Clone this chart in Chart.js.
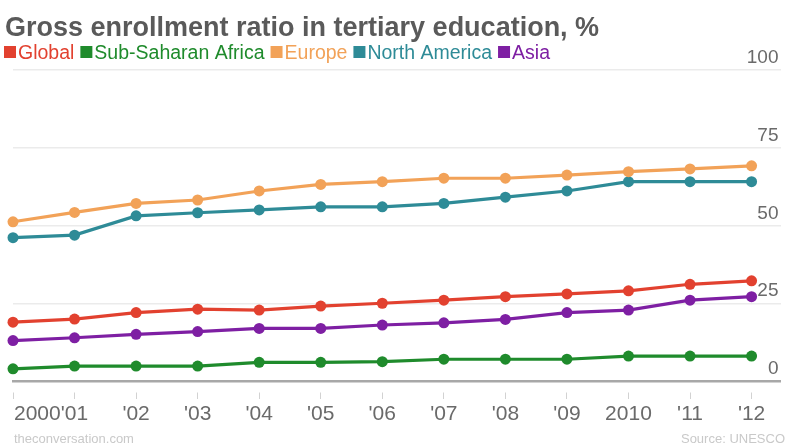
<!DOCTYPE html>
<html><head><meta charset="utf-8">
<script src="https://cdn.jsdelivr.net/npm/chart.js@4"></script>
<style>html,body{margin:0;padding:0;background:#fff}#wrap{width:786px;height:445px;position:relative}</style>
</head><body><div id="wrap"><canvas id="c"></canvas></div>
<script>
const chartTitle = "Gross enrollment ratio in tertiary education, %";
const years = ["2000","'01","'02","'03","'04","'05","'06","'07","'08","'09","2010","'11","'12"];
const seriesNames = ["Global","Sub-Saharan Africa","Europe","North America","Asia"];
const seriesColors = ["#e2412f","#1f8b2c","#f2a258","#2e8b97","#7e1fa3"];
const globalVals = [18.9,19.9,22.0,23.1,22.8,24.1,25.0,26.0,27.1,28.0,29.0,31.1,32.2];
const subSaharanAfrica = [3.9,4.8,4.8,4.8,6.0,6.0,6.2,7.0,7.0,7.0,8.0,8.0,8.0];
const europe = [51.2,54.2,57.1,58.2,61.1,63.2,64.1,65.2,65.2,66.2,67.3,68.2,69.2];
const northAmerica = [46.1,46.9,53.1,54.1,55.0,56.0,56.0,57.1,59.1,61.1,64.1,64.1,64.1];
const asia = [13.0,13.9,15.0,15.9,16.9,16.9,18.0,18.7,19.8,22.0,22.8,26.0,27.1];
const yTicks = [0,25,50,75,100];
const footerLeft = "theconversation.com";
const footerRight = "Source: UNESCO";

const seriesValues = [globalVals, subSaharanAfrica, europe, northAmerica, asia];
const FONT = '"Liberation Sans", Arial, Helvetica, sans-serif';

const datasets = seriesNames.map((name, s) => ({
  label: name,
  data: seriesValues[s].map((v, i) => ({x: i, y: v})),
  borderColor: seriesColors[s],
  backgroundColor: seriesColors[s],
  pointBackgroundColor: seriesColors[s],
  pointBorderWidth: 0,
  pointRadius: 5.5,
  borderWidth: 3.2,
  tension: 0,
  clip: false
}));

const deco = {
  id: 'deco',
  afterDraw(chart) {
    const ctx = chart.ctx;
    const xs = chart.scales.x;
    ctx.save();
    ctx.textBaseline = 'alphabetic';
    ctx.textAlign = 'left';
    ctx.font = 'bold 27px ' + FONT;
    ctx.fillStyle = '#5a5a5a';
    ctx.fillText(chartTitle, 5, 36);
    ctx.font = '19.5px ' + FONT;
    let x = 4;
    seriesNames.forEach((n, i) => {
      ctx.fillStyle = seriesColors[i];
      ctx.fillRect(x, 46, 12, 12);
      x += 14;
      ctx.fillText(n, x, 59);
      x += ctx.measureText(n).width + 6;
    });
    ctx.font = '21px ' + FONT;
    ctx.fillStyle = '#6a6a6a';
    years.forEach((lab, i) => {
      const px = xs.getPixelForValue(i);
      ctx.textAlign = i === 0 ? 'left' : 'center';
      ctx.fillText(lab, i === 0 ? px + 1 : px, 420);
    });
    ctx.font = '13px ' + FONT;
    ctx.fillStyle = '#c9c9c9';
    ctx.textAlign = 'left';
    ctx.fillText(footerLeft, 14, 443);
    ctx.textAlign = 'right';
    ctx.fillText(footerRight, 785, 443);
    ctx.restore();
  }
};

new Chart(document.getElementById('c'), {
  type: 'line',
  data: { datasets },
  options: {
    responsive: true,
    maintainAspectRatio: false,
    animation: false,
    layout: { padding: { top: 70, bottom: 46, left: 13, right: 0 } },
    plugins: { legend: { display: false }, tooltip: { enabled: false } },
    scales: {
      x: {
        type: 'linear',
        position: 'bottom',
        min: 0,
        max: 12.47,
        afterBuildTicks(scale) { scale.ticks = years.map((_, i) => ({ value: i })); },
        ticks: { display: false, autoSkip: false },
        grid: { display: true, drawOnChartArea: false, drawTicks: true, tickLength: 18,
                tickColor: '#d2d2d2', tickWidth: 1, tickBorderDash: [0, 10, 7, 100] },
        border: { display: true, color: '#a8a8a8', width: 2.5 }
      },
      y: {
        type: 'linear',
        position: 'right',
        min: 0,
        max: 100,
        afterBuildTicks(scale) { scale.ticks = yTicks.map(v => ({ value: v })); },
        afterFit(scale) { scale.width = 0; },
        ticks: { mirror: true, padding: -2, labelOffset: -12, color: '#6a6a6a',
                 font: { family: FONT, size: 19 } },
        grid: { color: '#ebebeb', lineWidth: 1.5, drawTicks: false },
        border: { display: false }
      }
    }
  },
  plugins: [deco]
});
</script>
</body></html>
